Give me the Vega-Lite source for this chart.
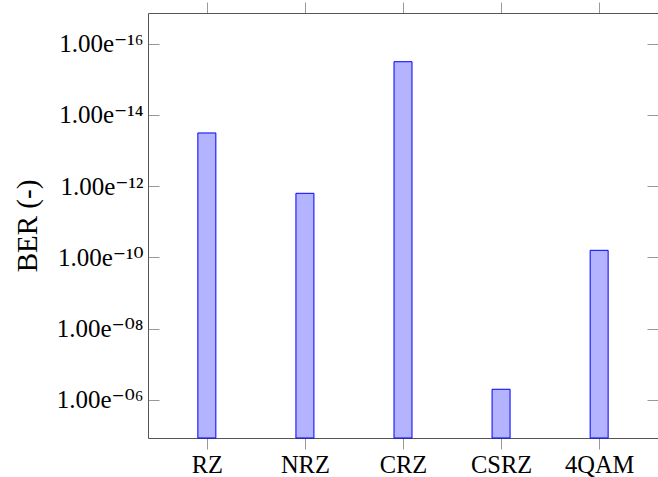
{
  "$schema": "https://vega.github.io/schema/vega-lite/v6.json",
  "width": 510,
  "height": 425,
  "autosize": {"type": "none"},
  "padding": {"left": 148, "top": 13, "right": 0, "bottom": 39},
  "background": "white",
  "config": {
    "view": {"stroke": null},
    "font": "Liberation Serif",
    "axis": {"grid": false, "domainColor": "#555555", "tickColor": "#999999", "labelColor": "black", "titleColor": "black", "labelFont": "Liberation Serif", "titleFont": "Liberation Serif"}
  },
  "data": {
    "values": [
      {"scheme": "RZ", "ber": 3.2e-14},
      {"scheme": "NRZ", "ber": 1.58e-12},
      {"scheme": "CRZ", "ber": 3.2e-16},
      {"scheme": "CSRZ", "ber": 5.0e-7},
      {"scheme": "4QAM", "ber": 6.3e-11}
    ]
  },
  "layer": [
    {
      "mark": {"type": "bar", "fill": "#b3b3ff", "stroke": "#0000ff", "strokeWidth": 1, "size": 18},
      "encoding": {
        "x": {
          "field": "scheme", "type": "nominal", "sort": null,
          "scale": {"type": "point", "padding": 0.6},
          "axis": {"orient": "bottom", "title": null, "labelAngle": 0, "tickSize": 11, "labelFont": "Liberation Serif", "labelFontSize": 24.5, "labelPadding": 4, "domainWidth": 1}
        },
        "y": {
          "field": "ber", "type": "quantitative",
          "scale": {"type": "log", "domain": [1.374e-17, 1.167e-5], "reverse": true, "nice": false},
          "axis": {
            "orient": "left",
            "values": [1e-16, 1e-14, 1e-12, 1e-10, 1e-8, 1e-6],
            "tickSize": -11,
            "labelExpr": "'1.00e' + ['⁻¹⁶','⁻¹⁴','⁻¹²','⁻¹⁰','⁻⁰⁸','⁻⁰⁶'][round((round(log(datum.value)/LN10)+16)/2)]",
            "labelFont": "Liberation Serif, DejaVu Serif",
            "labelFontSize": 25,
            "labelPadding": 16,
            "title": "BER (-)",
            "titleFont": "Liberation Serif",
            "titleFontSize": 29,
            "titleFontWeight": "normal",
            "titlePadding": 14
          }
        },
        "y2": {"datum": 1.167e-5}
      }
    },
    {
      "mark": {"type": "bar", "opacity": 0, "size": 18},
      "encoding": {
        "x": {
          "field": "scheme", "type": "nominal", "sort": null,
          "scale": {"type": "point", "padding": 0.6},
          "axis": {"orient": "top", "title": null, "labels": false, "tickSize": 11}
        },
        "y": {
          "field": "ber", "type": "quantitative",
          "scale": {"type": "log", "domain": [1.374e-17, 1.167e-5], "reverse": true, "nice": false},
          "axis": {"orient": "right", "title": null, "labels": false, "domain": false, "values": [1e-16, 1e-14, 1e-12, 1e-10, 1e-8, 1e-6], "tickSize": -11}
        },
        "y2": {"datum": 1.167e-5}
      }
    }
  ],
  "resolve": {"axis": {"x": "independent", "y": "independent"}}
}
